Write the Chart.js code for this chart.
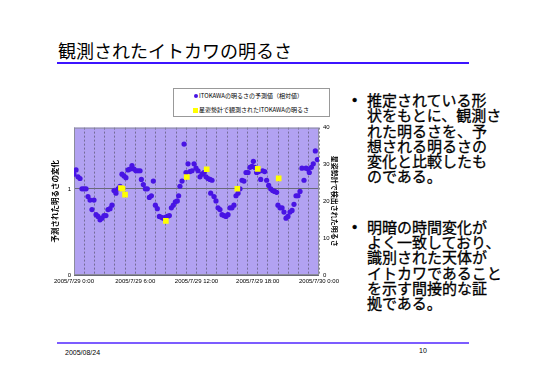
<!DOCTYPE html>
<html>
<head>
<meta charset="utf-8">
<script src="https://cdn.jsdelivr.net/npm/chart.js@4"></script>
<style>
body { margin: 0; background: #fff; font-family: "Noto Sans CJK JP", sans-serif; color: #000; }
#page { position: relative; width: 546px; height: 386px; overflow: hidden; }
.abs { position: absolute; white-space: nowrap; }
.title { left: 58px; top: 41px; font-size: 18px; line-height: 18px; }
.rule-top { left: 57px; top: 62px; width: 412px; height: 2px; background: #3c14ff; }
.rule-bottom { left: 57px; top: 342px; width: 412px; height: 1.5px; background: #7c5cff; }
.foot { font-family: "Liberation Sans", Arial, sans-serif; font-size: 7px; line-height: 8px; }
#c { position: absolute; left: 40px; top: 120px; }
.legend { left: 173px; top: 88px; width: 155px; height: 27px; border: 1px solid #999; background: #fff; }
.lg-text { font-size: 6px; line-height: 8px; }
.bul { font-size: 15px; line-height: 15.3px; -webkit-text-stroke: 0.3px #000; }
.dot { font-family: "Liberation Sans", Arial, sans-serif; }
</style>
</head>
<body>
<div id="page">
  <div class="abs title">観測されたイトカワの明るさ</div>
  <div class="abs rule-top"></div>

  <canvas id="c" width="305" height="172"></canvas>

  <div class="abs legend"></div>
  <div class="abs" style="left:193.5px;top:93.5px;width:4.5px;height:4.5px;border-radius:50%;background:#4814e4"></div>
  <div class="abs lg-text" style="left:199px;top:91.7px">ITOKAWAの明るさの予測値（相対値）</div>
  <div class="abs" style="left:193.2px;top:107.5px;width:5px;height:5px;background:#ffff00"></div>
  <div class="abs lg-text" style="left:199px;top:106px">星姿勢計で観測されたITOKAWAの明るさ</div>

  <div class="abs bul dot" style="left:352px;top:92px">•</div>
  <div class="abs bul" style="left:367px;top:92px">推定されている形<br>状をもとに、観測さ<br>れた明るさを、予<br>想される明るさの<br>変化と比較したも<br>のである。</div>
  <div class="abs bul dot" style="left:352px;top:218.7px">•</div>
  <div class="abs bul" style="left:367px;top:218.7px">明暗の時間変化が<br>よく一致しており、<br>識別された天体が<br>イトカワであること<br>を示す間接的な証<br>拠である。</div>

  <div class="abs rule-bottom"></div>
  <div class="abs foot" style="left:65px;top:348.5px">2005/08/24</div>
  <div class="abs foot" style="left:419px;top:347px">10</div>
</div>

<script>
// hours after 2005/7/29 0:00
const predHours = [
  0.00, 0.20, 0.39, 0.59, 0.78, 0.98, 1.18, 1.37, 1.57, 1.76, 1.96, 2.16, 2.35, 2.55, 2.74, 2.94,
  3.13, 3.33, 3.53, 3.72, 3.92, 4.11, 4.31, 4.51, 4.70, 4.90, 5.09, 5.29, 5.49, 5.68, 5.88, 6.07,
  6.27, 6.47, 6.60, 6.79, 6.99, 7.18, 7.38, 7.58, 7.77, 7.97, 8.16, 8.36, 8.56, 8.75, 8.95, 9.14,
  9.34, 9.54, 9.73, 9.93, 10.12, 10.25, 10.38, 10.58, 10.78, 10.97, 11.17, 11.36, 11.56, 11.76, 11.95, 12.15,
  12.34, 12.54, 12.73, 12.93, 13.13, 13.32, 13.52, 13.39, 13.71, 13.91, 14.11, 14.30, 14.50, 14.69, 14.89, 15.09,
  15.28, 15.48, 15.67, 15.87, 16.07, 16.26, 16.46, 16.65, 16.85, 17.05, 17.24, 17.44, 17.57, 17.70, 17.89, 18.09,
  18.29, 18.48, 18.68, 18.87, 19.07, 19.27, 19.46, 19.66, 19.85, 19.98, 20.18, 20.38, 20.57, 20.77, 20.96, 21.16,
  21.36, 21.55, 21.75, 21.94, 22.14, 22.33, 22.53, 22.73, 22.92, 23.05, 23.25, 23.44, 23.64, 23.84
];
const predValues = [
  1.17, 1.22, 1.14, 1.12, 1.00, 1.00, 1.00, 0.91, 0.87, 0.76, 0.87, 0.70, 0.68, 0.64, 0.66, 0.69,
  0.69, 0.76, 0.77, 0.81, 0.98, 0.95, 1.00, 1.03, 1.17, 1.15, 1.13, 1.22, 1.23, 1.27, 1.23, 1.21,
  1.21, 1.21, 1.11, 1.05, 1.00, 1.00, 0.90, 0.92, 1.09, 0.81, 0.77, 0.68, 0.67, 0.66, 0.67, 0.68,
  0.69, 0.78, 0.81, 0.85, 0.86, 0.92, 1.03, 1.09, 1.52, 1.19, 1.29, 1.20, 1.21, 1.29, 1.24, 1.21,
  1.14, 1.17, 1.19, 1.14, 1.12, 1.11, 1.10, 0.95, 0.91, 0.86, 0.78, 0.76, 0.70, 0.69, 0.68, 0.70,
  0.78, 0.78, 0.81, 0.92, 0.95, 1.00, 1.10, 1.09, 1.19, 1.19, 1.25, 1.26, 1.32, 1.25, 1.19, 1.20,
  1.11, 1.21, 1.20, 1.10, 1.04, 1.00, 0.98, 0.97, 0.96, 0.81, 0.78, 0.78, 0.73, 0.66, 0.68, 0.73,
  0.75, 0.82, 0.92, 0.92, 0.97, 1.24, 1.10, 1.24, 1.23, 1.19, 1.25, 1.29, 1.44, 1.34
];
const obsHours = [4.6, 4.75, 5.0, 9.0, 11.05, 13.0, 16.0, 18.0, 20.05];
const obsValues = [23.6, 23.4, 21.8, 14.7, 26.6, 28.7, 23.4, 28.8, 26.2];

const xTickHours = [0, 6, 12, 18, 24];
const xTickLabels = ['2005/7/29 0:00', '2005/7/29 6:00', '2005/7/29 12:00', '2005/7/29 18:00', '2005/7/30 0:00'];
const leftTicks = [0, 1];

Chart.defaults.font.family = '"Liberation Sans", Arial, "Noto Sans CJK JP", sans-serif';
Chart.defaults.color = '#000';

const plotFrame = {
  id: 'plotFrame',
  beforeDraw(chart) {
    const { ctx, chartArea: a } = chart;
    ctx.save();
    ctx.fillStyle = '#b2a2f2';
    ctx.fillRect(a.left, a.top, a.right - a.left, a.bottom - a.top);
    ctx.restore();
  },
  beforeDatasetsDraw(chart) {
    const { ctx, chartArea: a } = chart;
    ctx.save();
    ctx.strokeStyle = '#8c8c9c';
    ctx.lineWidth = 1;
    ctx.strokeRect(a.left + 0.5, a.top + 0.5, a.right - a.left - 1, a.bottom - a.top - 1);
    ctx.restore();
  }
};

new Chart(document.getElementById('c'), {
  type: 'scatter',
  data: {
    datasets: [
      {
        label: '星姿勢計で観測されたITOKAWAの明るさ',
        data: obsHours.map((h, i) => ({ x: h, y: obsValues[i] })),
        yAxisID: 'y1',
        pointStyle: 'rect',
        pointRadius: 4,
        backgroundColor: '#ffff00',
        borderWidth: 0,
        order: 0
      },
      {
        label: 'ITOKAWAの明るさの予測値（相対値）',
        data: predHours.map((h, i) => ({ x: h, y: predValues[i] })),
        yAxisID: 'y',
        pointRadius: 2.6,
        backgroundColor: '#4814e4',
        borderWidth: 0,
        order: 1
      }
    ]
  },
  options: {
    responsive: false,
    animation: false,
    devicePixelRatio: 1,
    layout: { padding: { top: 5, left: 0, right: 0, bottom: 0 } },
    plugins: { legend: { display: false }, tooltip: { enabled: false } },
    scales: {
      x: {
        type: 'linear', min: 0, max: 24,
        ticks: {
          stepSize: 1, autoSkip: false, maxRotation: 0, padding: 3,
          font: { size: 6 },
          callback: v => { const i = xTickHours.indexOf(v); return i < 0 ? '' : xTickLabels[i]; }
        },
        grid: { color: 'rgba(95,90,120,0.75)', lineWidth: 1, drawTicks: false },
        border: { display: false, dash: [2, 2] },
        afterFit(s) { s.height = 17; }
      },
      y: {
        position: 'left', min: 0, max: 1.711,
        afterBuildTicks(s) { s.ticks = leftTicks.map(v => ({ value: v })); },
        ticks: { font: { size: 6 }, padding: 3 },
        grid: { color: '#6a6a78', lineWidth: 1, drawTicks: false },
        border: { display: false },
        title: {
          display: true, text: '予測された明るさの変化',
          font: { size: 7.5, weight: 'bold', family: '"Noto Sans CJK JP", sans-serif' },
          padding: { top: 10.5, bottom: 0 }
        },
        afterFit(s) { s.width = 34; }
      },
      y1: {
        position: 'right', min: 0, max: 40,
        ticks: { stepSize: 10, font: { size: 6 }, padding: 4 },
        grid: { display: false, drawTicks: false },
        border: { display: false },
        title: {
          display: true, text: '星姿勢計で検出された明るさ',
          font: { size: 7, weight: 'bold', family: '"Noto Sans CJK JP", sans-serif' },
          padding: { top: 5.8, bottom: 0 }
        },
        afterFit(s) { s.width = 26; }
      }
    }
  },
  plugins: [plotFrame]
});
</script>
</body>
</html>
